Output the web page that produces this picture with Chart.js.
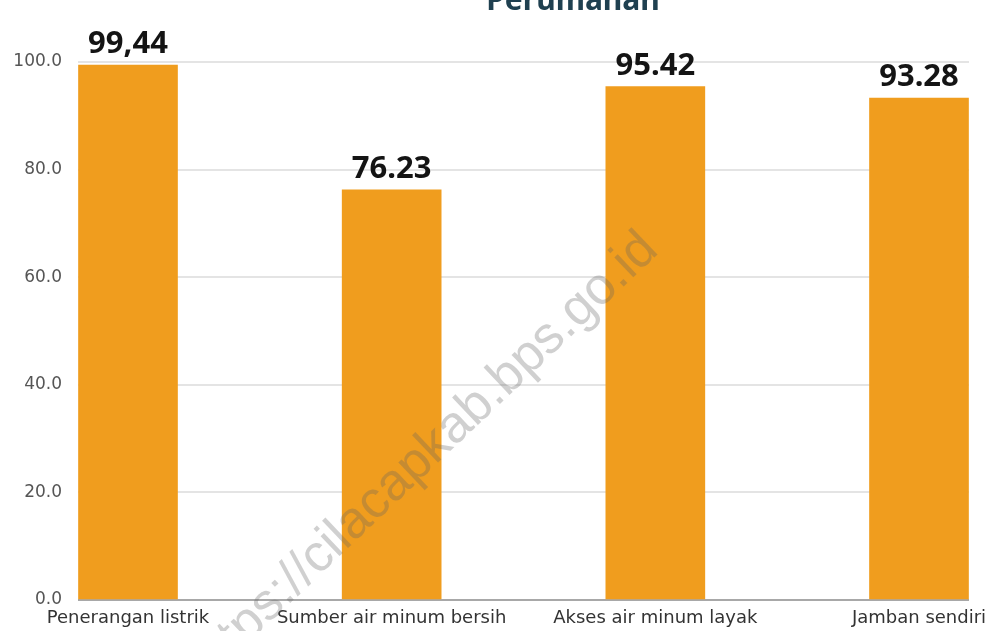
<!DOCTYPE html>
<html>
<head>
<meta charset="utf-8">
<script src="https://cdn.jsdelivr.net/npm/chart.js@4.4.1/dist/chart.umd.min.js"></script>
<style>
  html, body { margin: 0; padding: 0; background: #fff; }
  #wrap { width: 992px; height: 631px; position: relative; }
</style>
</head>
<body>
<div id="wrap"><canvas id="perumahan"></canvas></div>
<script>
const TITLE = 'Perumahan';
const WATERMARK = 'https://cilacapkab.bps.go.id';
const categories = ['Penerangan listrik', 'Sumber air minum bersih', 'Akses air minum layak', 'Jamban sendiri'];
const values = [99.44, 76.23, 95.42, 93.28];
const valueLabels = ['99,44', '76.23', '95.42', '93.28'];
const Y_MIN = 0;
const Y_MAX = 100;
const Y_STEP = 20;

const BAR_COLOR = '#f09d1e';
const GRID_COLOR = '#e4e4e4';

// judul (terpotong di atas), angka di atas batang, dan watermark
const extrasPlugin = {
  id: 'extras',
  afterDatasetsDraw(chart) {
    const ctx = chart.ctx;
    const meta = chart.getDatasetMeta(0);
    ctx.save();
    ctx.fillStyle = '#141414';
    ctx.font = 'bold 31px "Noto Sans"';
    ctx.textAlign = 'center';
    ctx.textBaseline = 'alphabetic';
    meta.data.forEach((bar, i) => {
      ctx.fillText(valueLabels[i], bar.x, bar.y - 12);
    });
    ctx.restore();
  },
  afterDraw(chart) {
    const ctx = chart.ctx;
    ctx.save();
    ctx.fillStyle = '#1f4050';
    ctx.font = 'bold 30px "Noto Sans"';
    ctx.textAlign = 'center';
    ctx.textBaseline = 'alphabetic';
    ctx.fillText(TITLE, 573, 10);

    ctx.translate(660, 252);
    ctx.rotate(-43.5 * Math.PI / 180);
    ctx.fillStyle = 'rgba(100, 100, 100, 0.3)';
    ctx.font = '52px "Liberation Sans"';
    ctx.textAlign = 'right';
    ctx.fillText(WATERMARK, 0, 0);
    ctx.restore();
  }
};

const yScaleBase = {
  min: Y_MIN,
  max: Y_MAX,
  border: { display: false },
  ticks: { stepSize: Y_STEP }
};

new Chart(document.getElementById('perumahan'), {
  type: 'bar',
  data: {
    labels: categories,
    datasets: [{
      data: values,
      backgroundColor: BAR_COLOR,
      barThickness: 99,
      clip: false
    }]
  },
  options: {
    responsive: true,
    maintainAspectRatio: false,
    animation: false,
    layout: { padding: { top: 62, left: 0, right: 0, bottom: 0 } },
    plugins: {
      legend: { display: false },
      tooltip: { enabled: false }
    },
    scales: {
      x: {
        offset: false,
        grid: { display: false, drawTicks: false },
        border: { display: false },
        ticks: {
          color: '#333',
          font: { family: 'DejaVu Sans', size: 18 },
          padding: 8,
          maxRotation: 0,
          autoSkip: false
        },
        afterFit: s => {
          s.height = 31;
          s.paddingLeft = 0;
          s.paddingRight = 0;
        }
      },
      y: {
        ...yScaleBase,
        position: 'left',
        grid: {
          color: c => (c.tick && c.tick.value === 0 ? '#a8a8a8' : GRID_COLOR),
          lineWidth: 2,
          tickLength: 50
        },
        ticks: {
          stepSize: Y_STEP,
          color: '#555',
          font: { family: 'DejaVu Sans', size: 17 },
          padding: 16,
          callback: v => v.toFixed(1)
        },
        afterFit: s => { s.width = 128; }
      },
      y2: {
        ...yScaleBase,
        position: 'right',
        grid: {
          drawOnChartArea: false,
          color: c => (c.tick && c.tick.value === 0 ? '#a8a8a8' : GRID_COLOR),
          lineWidth: 2,
          tickLength: 50
        },
        ticks: { stepSize: Y_STEP, display: false },
        afterFit: s => { s.width = 73; }
      }
    }
  },
  plugins: [extrasPlugin]
});
</script>
</body>
</html>
